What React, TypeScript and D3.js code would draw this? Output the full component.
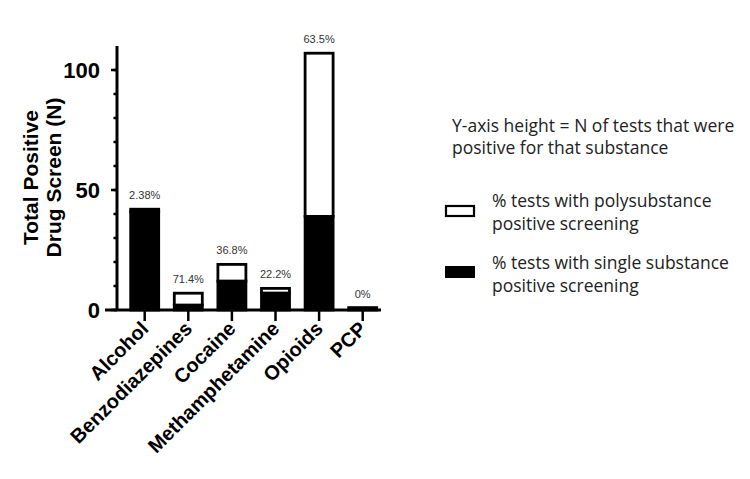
import * as d3 from "d3";

const categories = ["Alcohol", "Benzodiazepines", "Cocaine", "Methamphetamine", "Opioids", "PCP"];
const singleCounts = [41, 2, 12, 7, 39, 1];
const polyCounts = [1, 5, 7, 2, 68, 0];
const polyPctLabels = ["2.38%", "71.4%", "36.8%", "22.2%", "63.5%", "0%"];
const majorTicks = [0, 50, 100];
const minorTicks = d3.range(0, 110, 10);

const W = 750;
const H = 479;
const AXIS_FONT = "'Liberation Sans', Arial, sans-serif";
const LEGEND_FONT = "'Open Sans', 'Noto Sans', sans-serif";

export default function App() {
  const y = d3.scaleLinear().domain([0, 110]).range([310, 46]);
  const x = d3.scalePoint<string>().domain(categories).range([144.7, 362.7]);
  const barW = 28;
  const axisX = 117;

  return (
    <div style={{ position: "absolute", left: 0, top: 0 }}>
      <svg width={W} height={H} style={{ display: "block", background: "#fff" }}>
        {/* bars */}
        {categories.map((c, i) => {
          const cx = x(c)!;
          const total = singleCounts[i] + polyCounts[i];
          return (
            <g key={c}>
              {polyCounts[i] > 0 && (
                <rect
                  x={cx - barW / 2}
                  y={y(total)}
                  width={barW}
                  height={y(singleCounts[i]) - y(total)}
                  fill="#fff"
                  stroke="#000"
                  strokeWidth={2.8}
                />
              )}
              <rect
                x={cx - barW / 2}
                y={y(singleCounts[i])}
                width={barW}
                height={y(0) - y(singleCounts[i])}
                fill="#000"
                stroke="#000"
                strokeWidth={2.8}
              />
              <text
                x={cx}
                y={y(total) - 10}
                textAnchor="middle"
                fontFamily={AXIS_FONT}
                fontSize={11}
                fill="#333"
              >
                {polyPctLabels[i]}
              </text>
            </g>
          );
        })}

        {/* y axis */}
        <line x1={axisX} x2={axisX} y1={y(110)} y2={y(0)} stroke="#000" strokeWidth={3} />
        {minorTicks.map((t) => (
          <line key={t} x1={axisX - 3.5} x2={axisX} y1={y(t)} y2={y(t)} stroke="#000" strokeWidth={2.5} />
        ))}
        {majorTicks.map((t) => (
          <g key={t}>
            <line x1={axisX - 6} x2={axisX} y1={y(t)} y2={y(t)} stroke="#000" strokeWidth={2.5} />
            <text
              x={axisX - 17}
              y={y(t)}
              dy="0.36em"
              textAnchor="end"
              fontFamily={AXIS_FONT}
              fontWeight="bold"
              fontSize={22}
              fill="#000"
            >
              {t}
            </text>
          </g>
        ))}

        {/* x axis */}
        <line x1={105} x2={381} y1={y(0)} y2={y(0)} stroke="#000" strokeWidth={3} />
        {categories.map((c) => (
          <g key={c}>
            <line x1={x(c)!} x2={x(c)!} y1={y(0)} y2={y(0) + 11} stroke="#000" strokeWidth={2.5} />
            <text
              transform={`translate(${x(c)! + 5},${y(0) + 20}) rotate(-45)`}
              textAnchor="end"
              fontFamily={AXIS_FONT}
              fontWeight="bold"
              fontSize={20}
              fill="#000"
            >
              {c}
            </text>
          </g>
        ))}

        {/* y title */}
        <text
          transform="translate(38,177.5) rotate(-90)"
          textAnchor="middle"
          fontFamily={AXIS_FONT}
          fontWeight="bold"
          fontSize={21}
          fill="#000"
        >
          <tspan x={0} dy={0}>Total Positive</tspan>
          <tspan x={0} dy={23}>Drug Screen (N)</tspan>
        </text>

        {/* legend */}
        <g fontFamily={LEGEND_FONT} fontSize={17.5} fill="#222">
          <text x={452} y={132}>Y-axis height = N of tests that were</text>
          <text x={452} y={154}>positive for that substance</text>
          <rect x={446} y={206} width={28} height={10} fill="#fff" stroke="#000" strokeWidth={2.2} />
          <text x={492} y={207}>% tests with polysubstance</text>
          <text x={492} y={230}>positive screening</text>
          <rect x={445} y={266} width={30} height={12} fill="#000" />
          <text x={492} y={269}>% tests with single substance</text>
          <text x={492} y={292}>positive screening</text>
        </g>
      </svg>
    </div>
  );
}
